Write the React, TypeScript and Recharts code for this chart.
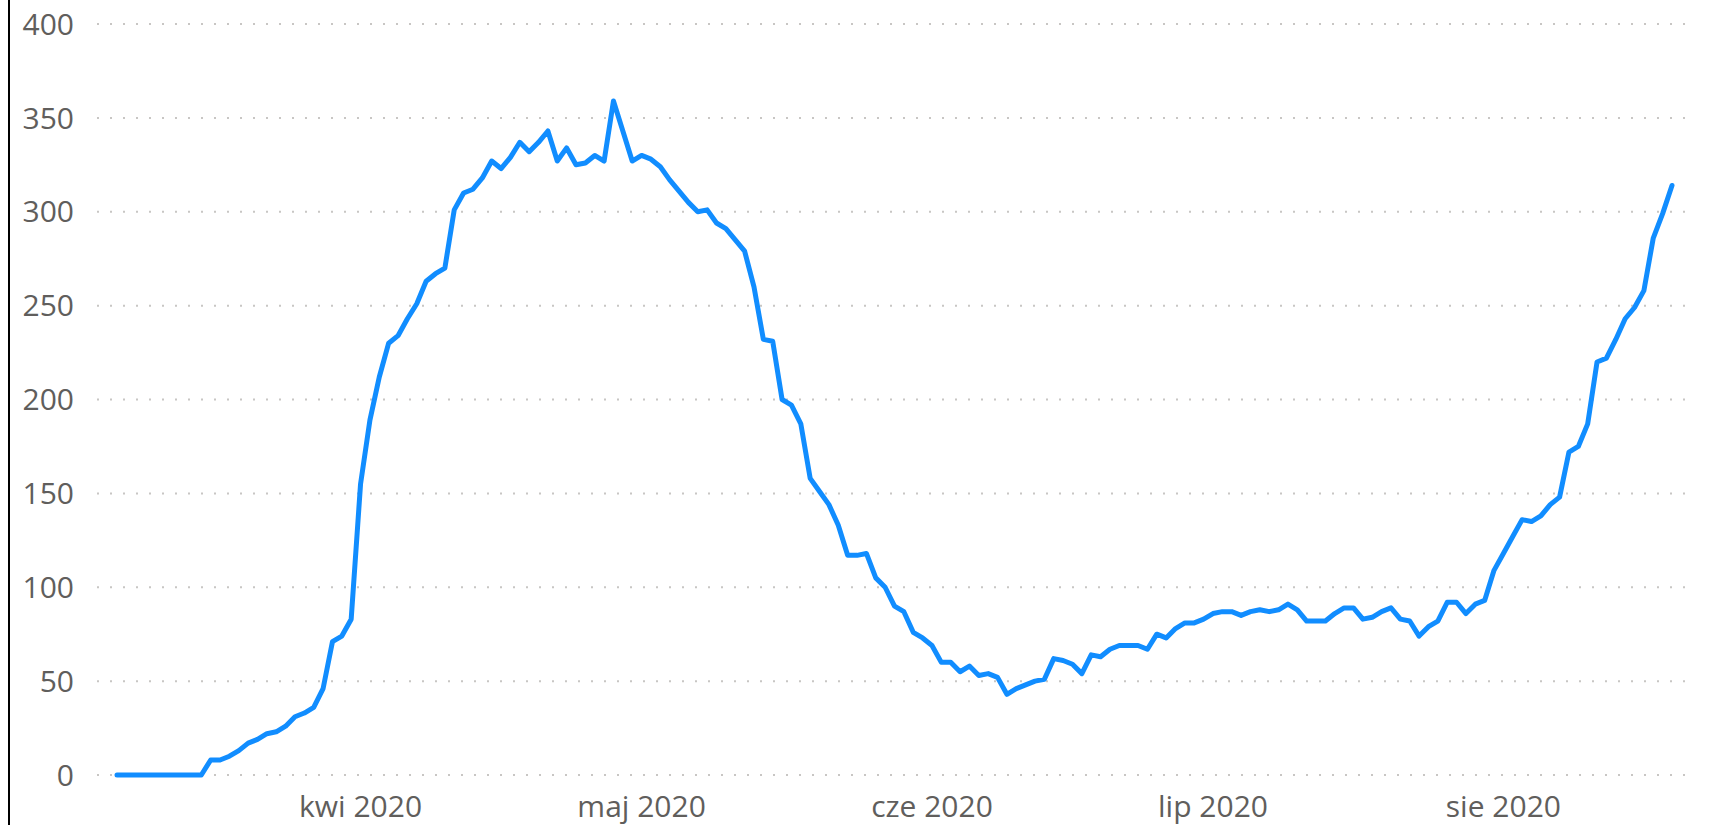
import { LineChart, Line, XAxis, YAxis, CartesianGrid } from 'recharts'

const TEXT = '#605E5C'
const GRID = '#C8C6C4'
const BLUE = '#118DFF'
const FONT = '"Open Sans", "Segoe UI", sans-serif'

// first day of the series, one value per day
const START_DATE = '2020-03-06'

const dailyValues = [
  0, 0, 0, 0, 0, 0, 0, 0, 0, 0,
  8, 8, 10, 13, 17, 19, 22, 23, 26, 31,
  33, 36, 46, 71, 74, 83, 155, 189, 212, 230,
  234, 243, 251, 263, 267, 270, 301, 310, 312, 318,
  327, 323, 329, 337, 332, 337, 343, 327, 334, 325,
  326, 330, 327, 359, 343, 327, 330, 328, 324, 317,
  311, 305, 300, 301, 294, 291, 285, 279, 260, 232,
  231, 200, 197, 187, 158, 151, 144, 133, 117, 117,
  118, 105, 100, 90, 87, 76, 73, 69, 60, 60,
  55, 58, 53, 54, 52, 43, 46, 48, 50, 51,
  62, 61, 59, 54, 64, 63, 67, 69, 69, 69,
  67, 75, 73, 78, 81, 81, 83, 86, 87, 87,
  85, 87, 88, 87, 88, 91, 88, 82, 82, 82,
  86, 89, 89, 83, 84, 87, 89, 83, 82, 74,
  79, 82, 92, 92, 86, 91, 93, 109, 118, 127,
  136, 135, 138, 144, 148, 172, 175, 187, 220, 222,
  232, 243, 249, 258, 286, 299, 314,
]

const monthStarts = ['2020-04-01', '2020-05-01', '2020-06-01', '2020-07-01', '2020-08-01']
const monthLabels = ['kwi 2020', 'maj 2020', 'cze 2020', 'lip 2020', 'sie 2020']

const yTicks = [0, 50, 100, 150, 200, 250, 300, 350, 400]

const DAY = 24 * 3600 * 1000
const t0 = Date.parse(START_DATE)

const data = dailyValues.map((v, i) => ({ t: t0 + i * DAY, value: v }))
const xTicks = monthStarts.map((d) => Date.parse(d))

export default function App() {
  return (
    <div style={{ position: 'absolute', left: 0, top: 0, width: 1724, height: 825, background: '#fff' }}>
      <div style={{ position: 'absolute', left: 8, top: 0, width: 2, height: 825, background: '#000' }} />
      <LineChart width={1724} height={825} data={data} margin={{ top: 24, right: 36, bottom: 20, left: 0 }}>
        <CartesianGrid vertical={false} stroke={GRID} strokeWidth={2} strokeDasharray="2 11" />
        <XAxis
          dataKey="t"
          type="number"
          scale="time"
          domain={['dataMin', 'dataMax']}
          ticks={xTicks}
          tickFormatter={(v) => monthLabels[xTicks.indexOf(v)] ?? ''}
          padding={{ left: 20, right: 16 }}
          axisLine={false}
          tickLine={false}
          tickSize={0}
          tickMargin={21}
          height={30}
          interval={0}
          tick={{ fill: TEXT, fontSize: 30, fontFamily: FONT }}
        />
        <YAxis
          domain={[0, 400]}
          ticks={yTicks}
          axisLine={false}
          tickLine={false}
          tickSize={0}
          tickMargin={23}
          width={97}
          interval={0}
          tick={{ fill: TEXT, fontSize: 30, fontFamily: FONT }}
        />
        <Line
          type="linear"
          dataKey="value"
          stroke={BLUE}
          strokeWidth={5}
          strokeLinejoin="round"
          strokeLinecap="round"
          dot={false}
          activeDot={false}
          isAnimationActive={false}
        />
      </LineChart>
    </div>
  )
}
